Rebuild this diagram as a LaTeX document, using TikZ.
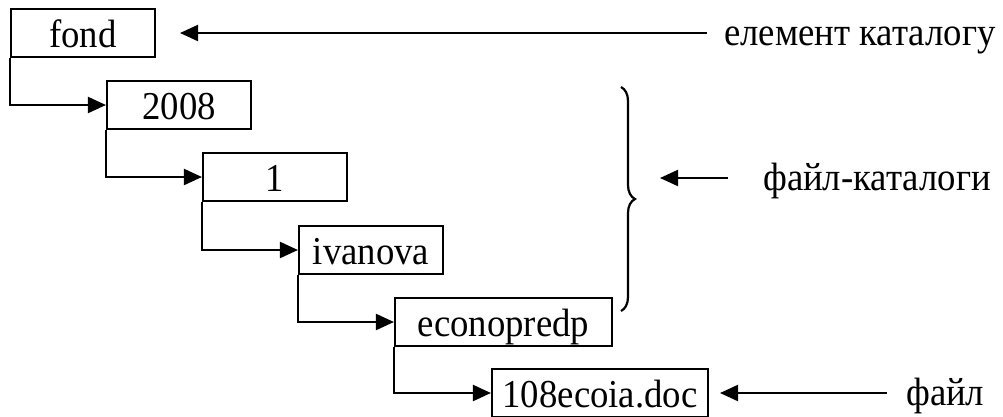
\documentclass[tikz,border=0pt]{standalone}
\usepackage{fontspec}
\setmainfont{Liberation Serif}[FakeStretch=0.93]
\usetikzlibrary{arrows.meta,decorations.pathreplacing}
\begin{document}
\begin{tikzpicture}[x=1pt,y=-1pt,
  box/.style={draw,line width=2.1pt,inner sep=0pt,minimum height=48pt,text height=38.5pt,text depth=9.5pt,font=\fontsize{39.5}{42}\selectfont},
  lbl/.style={anchor=base west,inner sep=0pt,font=\fontsize{39.5}{42}\selectfont},
  conn/.style={line width=2.1pt,-{Triangle[length=18pt,width=16pt]}},
  bracestyle/.style={line width=2.2pt,decorate,decoration={brace,amplitude=14pt,aspect=0.5}}]
\useasboundingbox (0,0) rectangle (1003,416);
\node[box,minimum width=144pt] (fond) at (83,33) {fond};
\node[box,minimum width=144pt] (y2008) at (179,105) {2008};
\node[box,minimum width=144pt] (one) at (275,177) {1};
\node[box,minimum width=144pt] (ivan) at (371,250) {ivanova};
\node[box,minimum width=217pt] (econ) at (503.5,322) {econopredp};
\node[box,minimum width=216pt] (doc) at (600,393) {108ecoia.doc};
\draw[conn] (fond.south west) |- (y2008.west);
\draw[conn] (y2008.south west) |- (one.west);
\draw[conn] (one.south west) |- (ivan.west);
\draw[conn] (ivan.south west) |- (econ.west);
\draw[conn] (econ.south west) |- (doc.west);
\node[lbl] (elem) at (724,45) {елемент каталогу};
\node[lbl] (cats) at (763,190) {файл-каталоги};
\node[lbl] (file) at (906,405) {файл};
\coordinate (a1s) at (707,33);
\coordinate (a1e) at (180,33);
\coordinate (a2s) at (728,178);
\coordinate (a2e) at (660,178);
\coordinate (a3s) at (887,393);
\coordinate (a3e) at (720,393);
\draw[conn] (a1s) -- (a1e);
\draw[conn] (a2s) -- (a2e);
\draw[conn] (a3s) -- (a3e);
\coordinate (btop) at (621,87);
\coordinate (bbot) at (621,311);
\draw[bracestyle] (btop) -- (bbot);
\end{tikzpicture}
\end{document}
